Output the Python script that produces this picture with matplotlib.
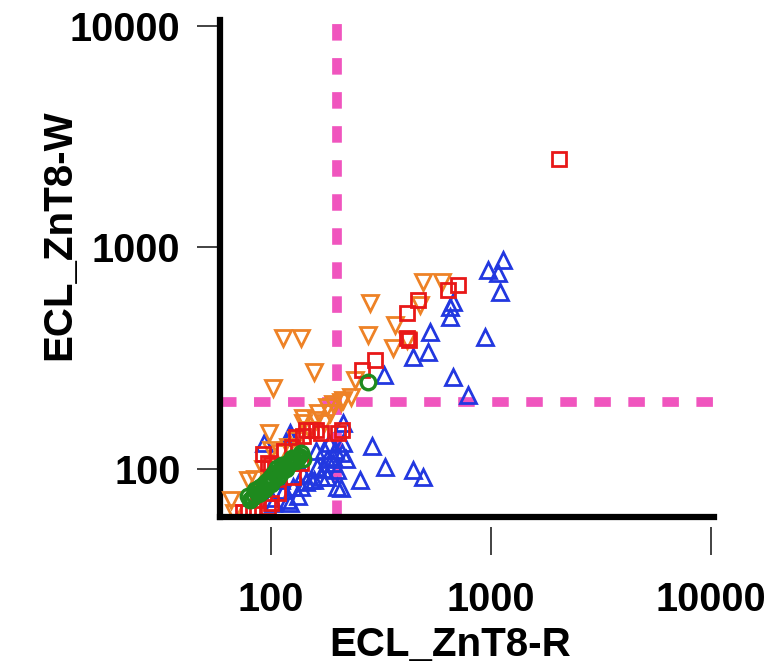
import matplotlib
matplotlib.use("Agg")
import matplotlib.pyplot as plt
from matplotlib.ticker import NullLocator, FixedLocator, FixedFormatter

# ---------------- data ----------------
blue_x = [1139, 974, 1081, 1104, 944, 655, 676, 655, 532, 521, 445, 326, 676, 791,
          214, 290, 332, 445, 494, 256, 214, 219, 197, 193, 208, 123, 93, 174, 181,
          163, 157, 137, 127, 123, 201, 181, 103, 111, 133, 120, 152, 169, 193, 201, 123,
          140, 145, 160, 185, 175, 210, 115, 100]
blue_y = [878, 791, 767, 630, 394, 539, 568, 486, 415, 337, 320, 266, 260, 216,
          161, 126, 102, 99, 92, 89, 131, 110, 122, 106, 82, 139, 131, 122, 110,
          102, 89, 83, 83, 70, 83, 92, 70, 89, 75, 72, 89, 92, 113, 99, 145,
          95, 87, 120, 130, 100, 118, 80, 74]

orange_x = [494, 603, 479, 369, 361, 418, 114.5, 137, 278, 157, 103, 284, 243, 231,
            193, 181, 141, 98, 66, 68, 187, 79, 100, 174, 208, 165, 214, 141,
            85, 92, 110, 120, 130, 150, 160]
orange_y = [698, 698, 550, 447, 352, 382, 390, 390, 403, 274, 232, 562, 252, 211,
            195, 189, 170, 145, 72, 63, 179, 89, 122, 160, 200, 179, 205, 161,
            90, 100, 118, 125, 135, 150, 165]

red_x = [2046, 712, 642, 469, 418, 418, 423, 261, 299, 212, 152, 169, 92, 97, 108,
         97, 79, 137, 127, 100, 100, 83, 75, 203, 131,
         115, 125, 140, 105, 88, 145, 160]
red_y = [2509, 677, 643, 579, 506, 390, 382, 280, 310, 150, 150, 145, 116, 106, 78,
         67, 64, 106, 92, 104, 70, 65, 64, 145, 139,
         120, 125, 140, 100, 72, 150, 150]

green_x = [278, 137, 141, 127, 119.5, 114.5, 108, 103, 97, 90, 87, 84, 79, 81, 111,
           123, 92, 132, 105, 95,
           85, 88, 93, 96, 100, 104, 110, 113, 117, 125, 130, 135, 100, 90, 82, 94,
           107, 120]
green_y = [247, 118, 110, 110, 104, 99, 92, 89, 86.5, 83, 80, 76, 75, 72, 99,
           108, 80, 112, 95, 84,
           80, 77, 85, 88, 92, 96, 95, 104, 100, 112, 108, 114, 85, 78, 74, 81,
           101, 106]

cutoff_x = 200
cutoff_y = 200

tick_values = [100, 1000, 10000]
tick_labels = ["100", "1000", "10000"]

x_label = "ECL_ZnT8-R"
y_label = "ECL_ZnT8-W"

# ---------------- style ----------------
plt.rcParams['font.family'] = ['Liberation Sans', 'DejaVu Sans']

BLUE = '#2238E0'
ORANGE = '#EE8226'
RED = '#E81818'
GREEN = '#1E8A1E'
PINK = '#F055BE'

fig = plt.figure(figsize=(7.83, 6.64), dpi=100)
ax = fig.add_axes([0.281, 0.2214, 0.631, 0.7486])
ax.set_xscale('log')
ax.set_yscale('log')
xmin, xmax = 59, 10300
ymin, ymax = 60.5, 10600
ax.set_xlim(xmin, xmax)
ax.set_ylim(ymin, ymax)

# cutoff lines
ax.axvline(cutoff_x, color=PINK, lw=7, dashes=(1.7, 1.8), zorder=1)
ax.axhline(cutoff_y, color=PINK, lw=7, dashes=(1.7, 1.8), zorder=1)

# points
ax.plot(blue_x, blue_y, linestyle='none', marker='^', ms=12, mfc='none',
        mec=BLUE, mew=2.0, zorder=3)
ax.plot(orange_x, orange_y, linestyle='none', marker='v', ms=12, mfc='none',
        mec=ORANGE, mew=2.0, zorder=4)
ax.plot(red_x, red_y, linestyle='none', marker='s', ms=10, mfc='none',
        mec=RED, mew=2.0, zorder=5)
ax.plot(green_x, green_y, linestyle='none', marker='o', ms=10.5, mfc='none',
        mec=GREEN, mew=2.4, zorder=6)

# spines
for s in ['top', 'right']:
    ax.spines[s].set_visible(False)
ax.spines['left'].set_linewidth(4.5)
ax.spines['left'].set_capstyle('projecting')
ax.spines['bottom'].set_position(('outward', 7))
ax.spines['bottom'].set_visible(False)
ax.axhline(ymin, color='black', lw=4.5, solid_capstyle='projecting',
           clip_on=False, zorder=7)

# ticks
for axis in (ax.xaxis, ax.yaxis):
    axis.set_major_locator(FixedLocator(tick_values))
    axis.set_major_formatter(FixedFormatter(tick_labels))
    axis.set_minor_locator(NullLocator())
ax.tick_params(axis='y', direction='out', length=16.5, width=1.2, pad=12,
               labelsize=28.5, color='#222222')
ax.tick_params(axis='x', direction='out', length=20, width=1.2, pad=19,
               labelsize=28.5, color='#222222')
for lab in ax.get_xticklabels() + ax.get_yticklabels():
    lab.set_fontweight('bold')

# axis labels
fig.text(59 / 783, 1 - 235 / 664, y_label, rotation=90, ha='center', va='center',
         fontsize=29, fontweight='bold')
fig.text(450 / 783, 8 / 664, x_label, ha='center', va='baseline',
         fontsize=29, fontweight='bold')

fig.savefig('out.png', dpi=100, facecolor='white')
